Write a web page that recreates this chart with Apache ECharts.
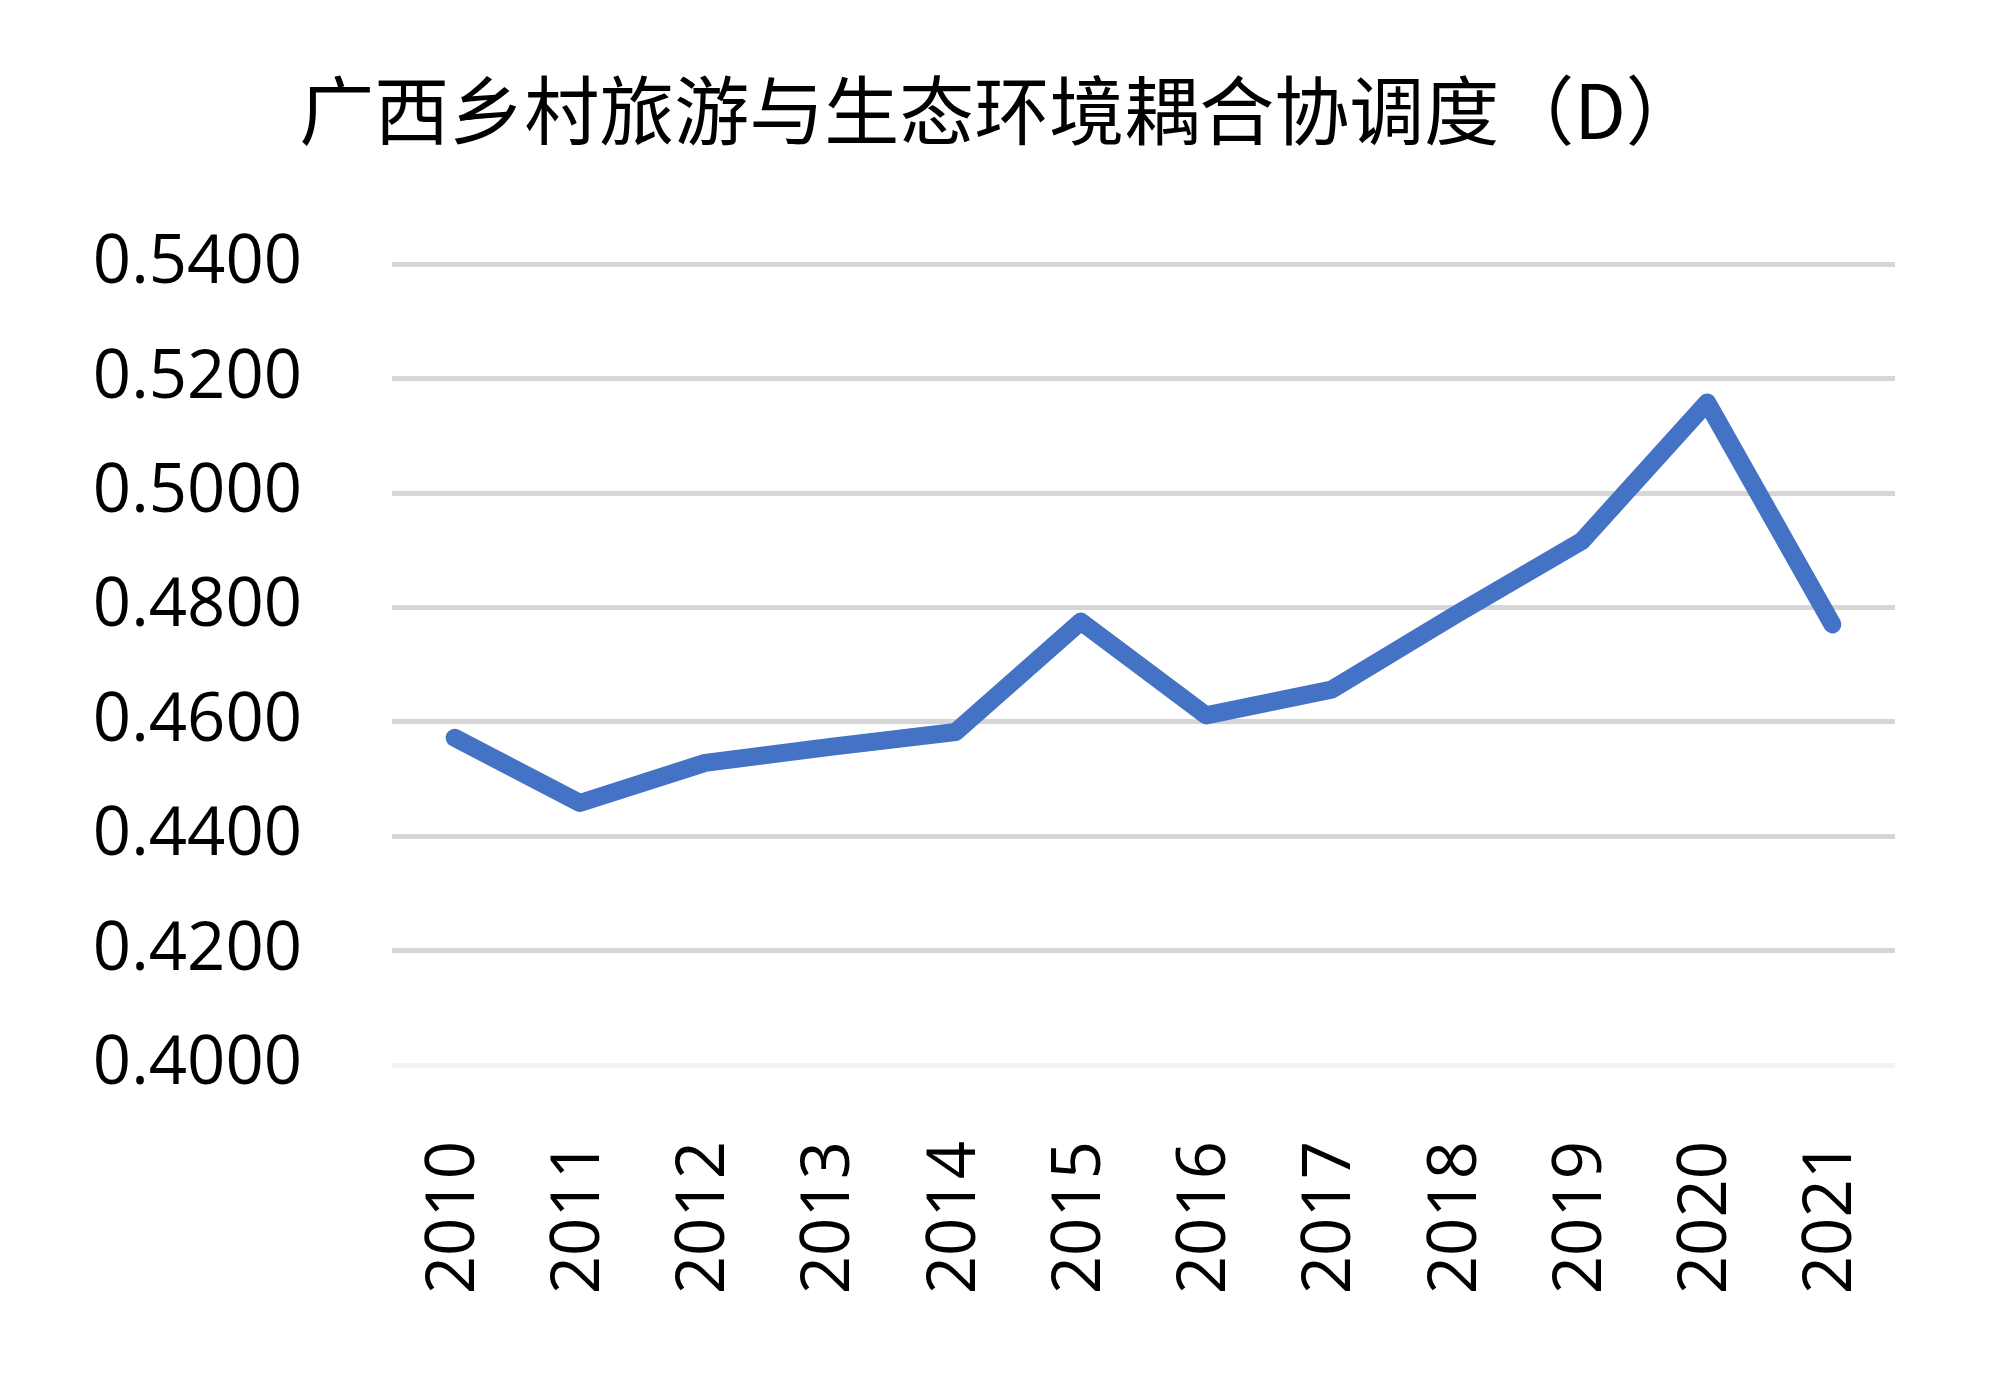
<!DOCTYPE html>
<html>
<head>
<meta charset="utf-8">
<script src="https://cdn.jsdelivr.net/npm/echarts@6/dist/echarts.min.js"></script>
<style>
html,body{margin:0;padding:0;background:#fff;}
#chart{width:2000px;height:1394px;}
</style>
</head>
<body>
<div id="chart"></div>
<script>
const titleText = '广西乡村旅游与生态环境耦合协调度（D）';
const years = ['2010','2011','2012','2013','2014','2015','2016','2017','2018','2019','2020','2021'];
const dValues = [0.4572, 0.4458, 0.4528, 0.4556, 0.4582, 0.4775, 0.4611, 0.4656, 0.4788, 0.4916, 0.5158, 0.4770];
const yMin = 0.40, yMax = 0.54, yStep = 0.02;

const chart = echarts.init(document.getElementById('chart'), null, {renderer: 'canvas'});
chart.setOption({
  animation: false,
  backgroundColor: '#ffffff',
  title: {
    text: titleText,
    left: 'center',
    top: 68,
    textStyle: {
      fontFamily: '"Noto Sans CJK SC", sans-serif',
      fontSize: 75,
      fontWeight: 'normal',
      color: '#000000'
    }
  },
  grid: {left: 392, right: 105, top: 264, bottom: 329, containLabel: false},
  xAxis: {
    type: 'category',
    data: years,
    boundaryGap: true,
    axisLine: {show: false},
    axisTick: {show: false},
    splitLine: {show: false},
    axisLabel: {
      rotate: 90,
      margin: 76,
      fontFamily: '"Open Sans", sans-serif',
      fontSize: 67,
      color: '#000000'
    }
  },
  yAxis: {
    type: 'value',
    min: yMin,
    max: yMax,
    interval: yStep,
    axisLine: {show: false},
    axisTick: {show: false},
    axisLabel: {
      margin: 90,
      fontFamily: '"Open Sans", sans-serif',
      fontSize: 67,
      color: '#000000',
      formatter: v => v.toFixed(4)
    },
    splitLine: {
      show: true,
      lineStyle: {
        width: 5,
        color: ['#f3f3f3','#d6d6d6','#d6d6d6','#d6d6d6','#d6d6d6','#d6d6d6','#d6d6d6','#d6d6d6']
      }
    }
  },
  series: [{
    type: 'line',
    data: dValues,
    showSymbol: false,
    symbol: 'none',
    lineStyle: {color: '#4472C4', width: 18, cap: 'round', join: 'round'},
    itemStyle: {color: '#4472C4'}
  }]
});
</script>
</body>
</html>
